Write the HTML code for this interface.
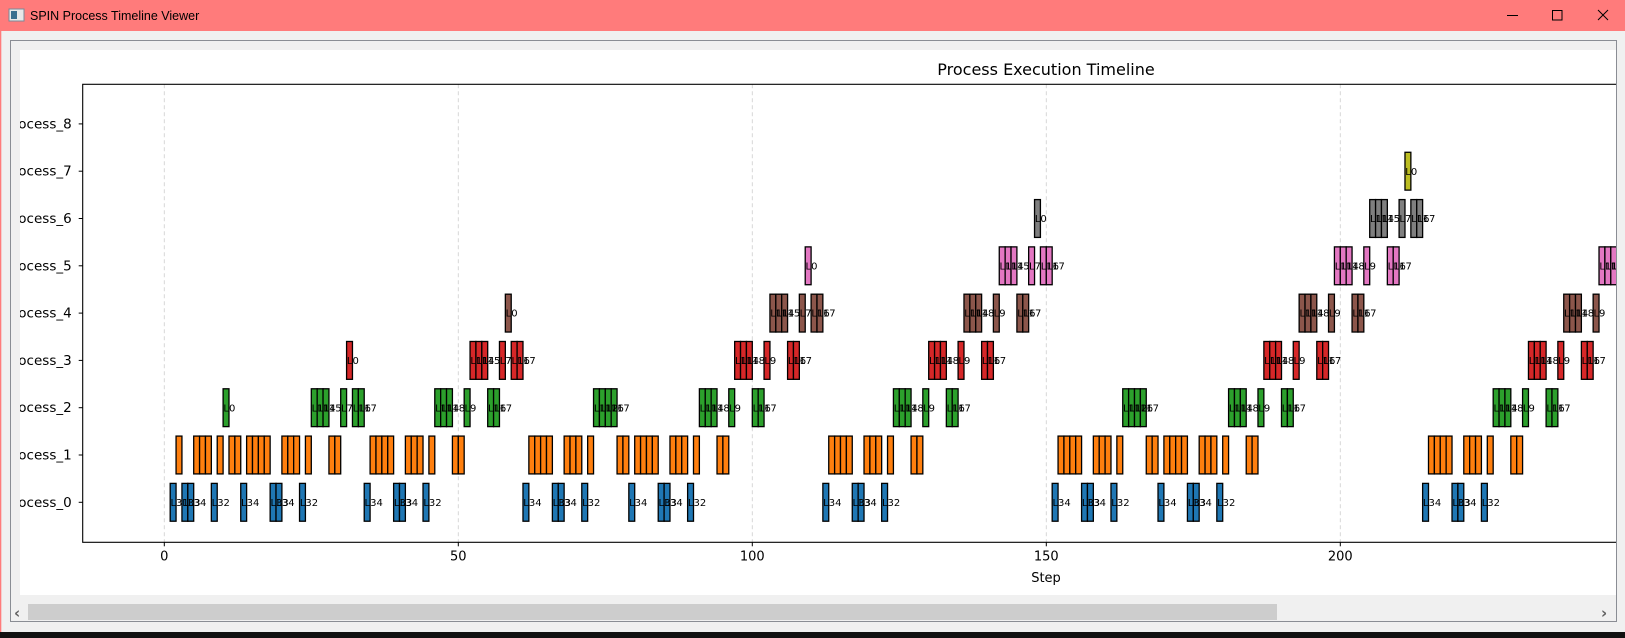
<!DOCTYPE html>
<html><head><meta charset="utf-8"><title>SPIN Process Timeline Viewer</title>
<style>
html,body{margin:0;padding:0;background:#f0f0f0;width:1625px;height:638px;overflow:hidden}
svg{display:block}
</style></head>
<body>
<svg id="root" xmlns="http://www.w3.org/2000/svg" width="1625" height="638" viewBox="0 0 1625 638">
  <rect x="0" y="0" width="1625" height="638" fill="#f0f0f0"/>
  <g>
    <rect x="0" y="0" width="1625" height="31" fill="#ff7b7b"/>
    <g>
      <rect x="9" y="9" width="15" height="12" fill="#e8e8e8" stroke="#7a8a99" stroke-width="1"/>
      <rect x="11" y="11" width="6" height="8" fill="#3a6f8f"/>
    </g>
    <text x="30" y="20" font-family="Liberation Sans, sans-serif" font-size="12.5" fill="#000">SPIN Process Timeline Viewer</text>
    <line x1="1507" y1="15.5" x2="1518" y2="15.5" stroke="#000" stroke-width="1"/>
    <rect x="1552.5" y="10.5" width="9.5" height="9.5" fill="none" stroke="#000" stroke-width="1"/>
    <g stroke="#000" stroke-width="1">
      <line x1="1598" y1="10" x2="1608" y2="20"/><line x1="1608" y1="10" x2="1598" y2="20"/>
    </g>
  </g>
  <rect x="0" y="31" width="1.3" height="601" fill="#ff7b7b"/>
  <rect x="10.5" y="40.5" width="1606" height="581" fill="#f0f0f0" stroke="#8a8d94" stroke-width="1"/>
  <defs><clipPath id="vp"><rect x="20" y="50" width="1596" height="545"/></clipPath></defs>
  <g clip-path="url(#vp)">
    <rect x="20" y="50" width="1600" height="545" fill="#fff"/>
    <g id="chart"></g>
  </g>
  <g>
    <rect x="11" y="603" width="1605" height="18" fill="#f0f0f0"/>
    <rect x="28" y="604" width="1249" height="16" fill="#cdcdcd"/>
    <text x="14" y="618" font-family="DejaVu Sans, sans-serif" font-size="15" fill="#606060" font-weight="bold">‹</text>
    <text x="1601" y="618" font-family="DejaVu Sans, sans-serif" font-size="15" fill="#606060" font-weight="bold">›</text>
  </g>
  <rect x="0" y="632" width="1625" height="6" fill="#111"/>
</svg>
<script>
const processNames = ["process_0","process_1","process_2","process_3","process_4","process_5","process_6","process_7","process_8"];
const processColors = ["#1f77b4","#ff7f0e","#2ca02c","#d62728","#8c564b","#e377c2","#7f7f7f","#bcbd22","#17becf"];
const xTicks = [0,50,100,150,200,250];

const p0Steps = [1,3,4,8,13,18,19,23,34,39,40,44,61,66,67,71,79,84,85,89,112,117,118,122,151,156,157,161,169,174,175,179,214,219,220,224];
const p0Labels = ["L31","L33","L34","L32","L34","L33","L34","L32","L34","L33","L34","L32","L34","L33","L34","L32","L34","L33","L34","L32","L34","L33","L34","L32","L34","L33","L34","L32","L34","L33","L34","L32","L34","L33","L34","L32"];
const p1Steps = [2,5,6,7,9,11,12,14,15,16,17,20,21,22,24,28,29,35,36,37,38,41,42,43,45,49,50,62,63,64,65,68,69,70,72,77,78,80,81,82,83,86,87,88,90,94,95,113,114,115,116,119,120,121,123,127,128,152,153,154,155,158,159,160,162,167,168,170,171,172,173,176,177,178,180,184,185,215,216,217,218,221,222,223,225,229,230];
const p1Labels = [];
const p2Steps = [10,25,26,27,30,32,33,46,47,48,51,55,56,73,74,75,76,91,92,93,96,100,101,124,125,126,129,133,134,163,164,165,166,181,182,183,186,190,191,226,227,228,231,235,236];
const p2Labels = ["L0","L11","L14","L15","L7","L16","L17","L11","L14","L18","L9","L16","L17","L11","L12","L16","L17","L11","L14","L18","L9","L16","L17","L11","L14","L18","L9","L16","L17","L11","L12","L16","L17","L11","L14","L18","L9","L16","L17","L11","L14","L18","L9","L16","L17"];
const p3Steps = [31,52,53,54,57,59,60,97,98,99,102,106,107,130,131,132,135,139,140,187,188,189,192,196,197,232,233,234,237,241,242];
const p3Labels = ["L0","L11","L14","L15","L7","L16","L17","L11","L14","L18","L9","L16","L17","L11","L14","L18","L9","L16","L17","L11","L14","L18","L9","L16","L17","L11","L14","L18","L9","L16","L17"];
const p4Steps = [58,103,104,105,108,110,111,136,137,138,141,145,146,193,194,195,198,202,203,238,239,240,243];
const p4Labels = ["L0","L11","L14","L15","L7","L16","L17","L11","L14","L18","L9","L16","L17","L11","L14","L18","L9","L16","L17","L11","L14","L18","L9"];
const p5Steps = [109,142,143,144,147,149,150,199,200,201,204,208,209,244,245,246];
const p5Labels = ["L0","L11","L14","L15","L7","L16","L17","L11","L14","L18","L9","L16","L17","L11","L14","L18"];
const p6Steps = [148,205,206,207,210,212,213];
const p6Labels = ["L0","L11","L14","L15","L7","L16","L17"];
const p7Steps = [211];
const p7Labels = ["L0"];
const p8Steps = [];
const p8Labels = [];

const allSteps = [p0Steps,p1Steps,p2Steps,p3Steps,p4Steps,p5Steps,p6Steps,p7Steps,p8Steps];
const allLabels = [p0Labels,p1Labels,p2Labels,p3Labels,p4Labels,p5Labels,p6Labels,p7Labels,p8Labels];

const NS = "http://www.w3.org/2000/svg";
const X0 = 164.3, PX = 5.88;
const Y0 = 502.3, ROW = 47.3;
const AX_L = 82.7, AX_T = 84.3, AX_B = 542.3, AX_R = 2010;
function xs(s){ return X0 + s*PX; }
function ys(p){ return Y0 - p*ROW; }
function mk(tag, attrs, parent){
  const e = document.createElementNS(NS, tag);
  for (const k in attrs) e.setAttribute(k, attrs[k]);
  parent.appendChild(e);
  return e;
}
const chart = document.getElementById('chart');

const grid = mk('g', {}, chart);


xTicks.forEach(t => {
  const l = mk('line', {x1: xs(t), x2: xs(t), y1: AX_T, y2: AX_B, stroke: '#d3d3d3', 'stroke-width': 0.9, 'stroke-dasharray': '4,3'}, grid);
  
  
});

const bars = mk('g', {}, chart);


allSteps.forEach((steps, p) => {
  const g = mk('g', {}, bars);
  
  
  steps.forEach((s, i) => {
    const r = mk('rect', {x: xs(s), y: ys(p) - ROW*0.4, width: PX, height: ROW*0.8, fill: processColors[p], stroke: '#000', 'stroke-width': 1.3}, g);
    
    
  });
});
allSteps.forEach((steps, p) => {
  const labels = allLabels[p];
  steps.forEach((s, i) => {
    if (!labels[i]) return;
    const t = mk('text', {x: xs(s) + 0.3, y: ys(p) + 3.6, 'font-family': 'DejaVu Sans, sans-serif', 'font-size': 10, fill: '#000'}, chart);
    t.textContent = labels[i];
    
    
  });
});

const axes = mk('g', {}, chart);


mk('rect', {x: AX_L, y: AX_T, width: AX_R - AX_L, height: AX_B - AX_T, fill: 'none', stroke: '#000', 'stroke-width': 1.1}, axes);

xTicks.forEach(t => {
  mk('line', {x1: xs(t), x2: xs(t), y1: AX_B, y2: AX_B + 4, stroke: '#000', 'stroke-width': 1}, axes);
  const tl = mk('text', {x: xs(t), y: AX_B + 18, 'text-anchor': 'middle', 'font-family': 'DejaVu Sans, sans-serif', 'font-size': 13, fill: '#000'}, chart);
  tl.textContent = String(t);
  
  
});
processNames.forEach((n, p) => {
  mk('line', {x1: AX_L - 4, x2: AX_L, y1: ys(p), y2: ys(p), stroke: '#000', 'stroke-width': 1}, axes);
  const tl = mk('text', {x: AX_L - 11, y: ys(p) + 4.5, 'text-anchor': 'end', 'font-family': 'DejaVu Sans, sans-serif', 'font-size': 13.5, fill: '#000'}, chart);
  tl.textContent = n;
  
  
});

const title = mk('text', {x: 1046, y: 75, 'text-anchor': 'middle', 'font-family': 'DejaVu Sans, sans-serif', 'font-size': 16, fill: '#000'}, chart);
title.textContent = 'Process Execution Timeline';


const xl = mk('text', {x: 1046, y: 582, 'text-anchor': 'middle', 'font-family': 'DejaVu Sans, sans-serif', 'font-size': 13, fill: '#000'}, chart);
xl.textContent = 'Step';


</script>
</body></html>
